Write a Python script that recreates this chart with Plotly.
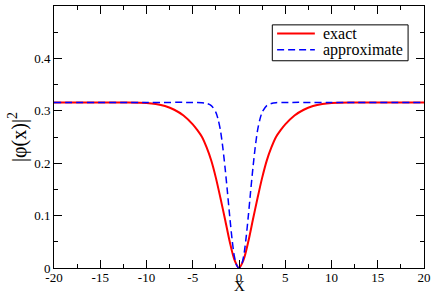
import plotly.graph_objects as go

# exact curve values
x_exact = [-20, -15, -12, -10, -9, -8, -7, -6, -5, -4.5, -4, -3.5, -3, -2.5, -2, -1.5, -1, -0.5, 0,
           0.5, 1, 1.5, 2, 2.5, 3, 3.5, 4, 4.5, 5, 6, 7, 8, 9, 10, 12, 15, 20]
y_exact = [0.316, 0.316, 0.316, 0.315, 0.313, 0.309, 0.302, 0.291, 0.274, 0.263, 0.250, 0.230, 0.205, 0.172, 0.133, 0.092, 0.050, 0.016, 0.0,
           0.016, 0.050, 0.092, 0.133, 0.172, 0.205, 0.230, 0.250, 0.263, 0.274, 0.291, 0.302, 0.309, 0.313, 0.315, 0.316, 0.316, 0.316]

# approximate curve values
x_approx = [-20, -10, -5, -4, -3.5, -3, -2.5, -2.25, -2, -1.75, -1.5, -1.25, -1, -0.75, -0.5, -0.25, 0,
            0.25, 0.5, 0.75, 1, 1.25, 1.5, 1.75, 2, 2.25, 2.5, 3, 3.5, 4, 5, 10, 20]
y_approx = [0.316, 0.316, 0.316, 0.3155, 0.314, 0.310, 0.297, 0.283, 0.262, 0.230, 0.190, 0.145, 0.098, 0.055, 0.022, 0.005, 0.0,
            0.005, 0.022, 0.055, 0.098, 0.145, 0.190, 0.230, 0.262, 0.283, 0.297, 0.310, 0.314, 0.3155, 0.316, 0.316, 0.316]

series_names = ["exact", "approximate"]

x_ticks = [-20, -15, -10, -5, 0, 5, 10, 15, 20]
x_ticktext = ["-20", "-15", "-10", "-5", "0", "5", "10", "15", "20"]
x_minor = [-17.5, -12.5, -7.5, -2.5, 2.5, 7.5, 12.5, 17.5]
y_ticks = [0, 0.1, 0.2, 0.3, 0.4, 0.5]
y_ticktext = ["0", "0.1", "0.2", "0.3", "0.4", "0.5"]
y_minor = [0.05, 0.15, 0.25, 0.35, 0.45]

FONT = "Liberation Serif"
RED = "#ff0000"
BLUE = "#0000ff"
DASH = "7px,4px"

fig = go.Figure()
fig.add_trace(go.Scatter(x=x_exact, y=y_exact, mode="lines", name=series_names[0],
                         line=dict(color=RED, width=2, shape="spline", smoothing=0.8)))
fig.add_trace(go.Scatter(x=x_approx, y=y_approx, mode="lines", name=series_names[1],
                         line=dict(color=BLUE, width=1.5, dash=DASH, shape="spline", smoothing=0.8)))

tick_font = dict(family=FONT, size=13, color="black")
axis_common = dict(showline=True, linecolor="black", linewidth=1, mirror="ticks",
                   ticks="inside", ticklen=8, tickcolor="black", tickwidth=1,
                   showgrid=False, zeroline=False)
minor_common = dict(tickmode="array", ticks="inside", ticklen=4, tickcolor="black", tickwidth=1)

fig.update_layout(
    xaxis=dict(range=[-20, 20], tickmode="array", tickvals=x_ticks, ticktext=x_ticktext,
               tickfont=tick_font, minor=dict(tickvals=x_minor, **minor_common),
               ticklabelstandoff=-3,
               **axis_common),
    yaxis=dict(range=[0, 0.5], tickmode="array", tickvals=y_ticks, ticktext=y_ticktext,
               tickfont=tick_font, minor=dict(tickvals=y_minor, **minor_common),
               title=dict(text="|φ(x)|<sup>2</sup>", font=dict(family=FONT, size=20, color="black"), standoff=2),
               **axis_common),
)

# x-axis title placed just under the tick labels
fig.add_annotation(text="X", xref="paper", yref="paper", x=0.5, y=-0.1065,
                   xanchor="center", yanchor="bottom", showarrow=False,
                   font=dict(family=FONT, size=15, color="black"))

# legend box drawn in paper coordinates
fig.add_shape(type="rect", xref="paper", yref="paper", x0=0.590, x1=0.957, y0=0.791, y1=0.928,
              line=dict(color="black", width=1), fillcolor="white", layer="above")
legend_rows_y = [0.8954, 0.8327]
legend_styles = [dict(color=RED, width=2), dict(color=BLUE, width=1.5, dash=DASH)]
for name, ly, st in zip(series_names, legend_rows_y, legend_styles):
    fig.add_shape(type="line", xref="paper", yref="paper", x0=0.603, x1=0.705, y0=ly, y1=ly,
                  line=st, layer="above")
    fig.add_annotation(text=name, xref="paper", yref="paper", x=0.722, y=ly,
                       xanchor="left", yanchor="middle", showarrow=False,
                       font=dict(family=FONT, size=16, color="black"))

fig.update_layout(
    width=436, height=296,
    margin=dict(l=54, r=9, t=5, b=28),
    paper_bgcolor="white", plot_bgcolor="white",
    font=dict(family=FONT, size=13, color="black"),
    showlegend=False,
)

fig.write_html("out.html", config={"displayModeBar": False},
               post_script="document.body.style.margin='0';")
